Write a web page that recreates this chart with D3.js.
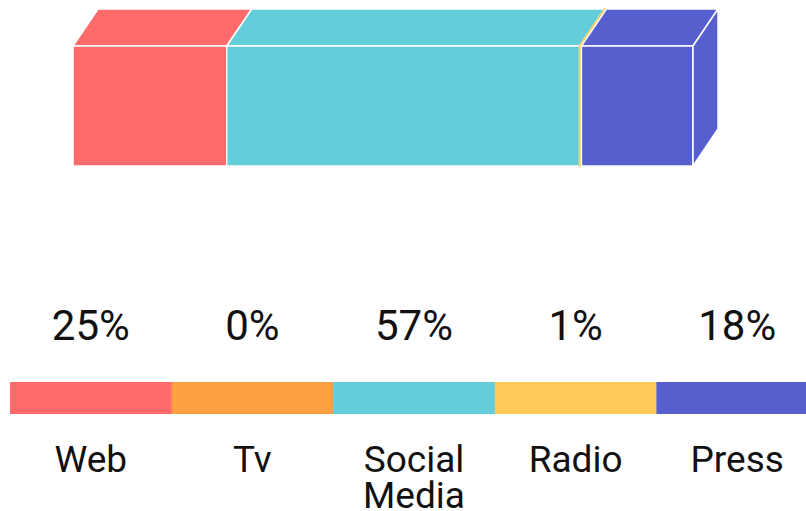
<!DOCTYPE html>
<html>
<head>
<meta charset="utf-8">
<script src="https://cdn.jsdelivr.net/npm/d3@7"></script>
<style>
body{margin:0;background:#fff;}
text{font-family:Roboto, "Noto Sans", sans-serif;}
</style>
</head>
<body>
<svg></svg>
<script>
var categories = ["Web", "Tv", "Social Media", "Radio", "Press"]
var values = [24.8, 0, 56.9, 0.3, 18]
var percentLabels = ["25%", "0%", "57%", "1%", "18%"]
var colors = ["#ff6b6b", "#ff9f43", "#63cdda", "#feca57", "#575fcf"]

var screen = {width:806, height:511}

var svg = d3.select("svg")
    .attr("width", screen.width)
    .attr("height", screen.height)

// stacked 3d bar
var depth = {dx:25, dy:-37}
var barTop = 46, barBottom = 166

var xScale = d3.scaleLinear()
    .domain([0, d3.sum(values)])
    .range([73, 693])

var stacked = []
var acc = 0
values.forEach(function(v, i){
    stacked.push({name:categories[i], color:colors[i], x0:acc, x1:acc+v})
    acc += v
})
stacked = stacked.filter(function(d){return d.x1 > d.x0})

var strokeFor = function(d){
    return (xScale(d.x1) - xScale(d.x0)) > 4 ? "#fff" : d.color
}

var bar = svg.append("g")

// top faces
bar.selectAll("path.top")
    .data(stacked)
    .enter()
    .append("path")
    .attr("class", "top")
    .attr("d", function(d){
        var a = xScale(d.x0), b = xScale(d.x1)
        return "M" + a + "," + barTop +
            "L" + (a + depth.dx) + "," + (barTop + depth.dy) +
            "L" + (b + depth.dx) + "," + (barTop + depth.dy) +
            "L" + b + "," + barTop + "Z"
    })
    .attr("fill", function(d){return d.color})
    .attr("stroke", strokeFor)
    .attr("stroke-width", 1.5)

// front faces
bar.selectAll("rect.front")
    .data(stacked)
    .enter()
    .append("rect")
    .attr("class", "front")
    .attr("x", function(d){return xScale(d.x0)})
    .attr("y", barTop)
    .attr("width", function(d){return xScale(d.x1) - xScale(d.x0)})
    .attr("height", barBottom - barTop)
    .attr("fill", function(d){return d.color})
    .attr("stroke", strokeFor)
    .attr("stroke-width", 1.5)

// right side face of last segment
var last = stacked[stacked.length - 1]
var xr = xScale(last.x1)
bar.append("path")
    .attr("d", "M" + xr + "," + barTop +
        "L" + (xr + depth.dx) + "," + (barTop + depth.dy) +
        "L" + (xr + depth.dx) + "," + (barBottom + depth.dy) +
        "L" + xr + "," + barBottom + "Z")
    .attr("fill", last.color)
    .attr("stroke", "#fff")
    .attr("stroke-width", 1.5)

// legend strip
var band = d3.scaleBand()
    .domain(categories)
    .range([10, 818])

var legend = svg.append("g")

legend.selectAll("rect")
    .data(categories)
    .enter()
    .append("rect")
    .attr("x", function(d){return band(d)})
    .attr("y", 382)
    .attr("width", band.bandwidth() + 0.5)
    .attr("height", 32)
    .attr("fill", function(d, i){return colors[i]})

legend.selectAll("text.pct")
    .data(categories)
    .enter()
    .append("text")
    .attr("class", "pct")
    .attr("x", function(d){return band(d) + band.bandwidth()/2})
    .attr("y", 340)
    .attr("text-anchor", "middle")
    .attr("font-size", 42)
    .attr("fill", "#111")
    .text(function(d, i){return percentLabels[i]})

var names = legend.selectAll("text.name")
    .data(categories)
    .enter()
    .append("text")
    .attr("class", "name")
    .attr("x", function(d){return band(d) + band.bandwidth()/2})
    .attr("y", 472)
    .attr("text-anchor", "middle")
    .attr("font-size", 37)
    .attr("fill", "#111")

names.each(function(d){
    var t = d3.select(this)
    t.text(d)
    if (this.getComputedTextLength() > band.bandwidth() - 10) {
        t.text(null)
        var x = band(d) + band.bandwidth()/2
        d.split(" ").forEach(function(w, k){
            t.append("tspan")
                .attr("x", x)
                .attr("dy", k == 0 ? 0 : 36)
                .text(w)
        })
    }
})
</script>
</body>
</html>
